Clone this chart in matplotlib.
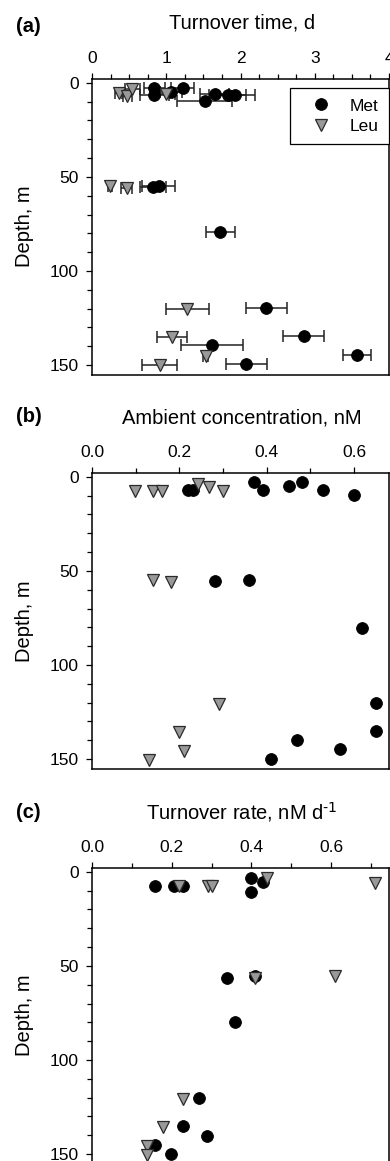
import matplotlib
matplotlib.use('Agg')
import matplotlib.pyplot as plt
from matplotlib.ticker import MultipleLocator, FormatStrFormatter

plt.rcParams['font.family'] = ['Liberation Sans', 'DejaVu Sans']
plt.rcParams['mathtext.default'] = 'regular'

# (a) turnover time, d
a_met_x = [0.84, 0.84, 1.06, 1.22, 1.52, 1.65, 1.83, 1.93, 0.82, 0.90, 1.73, 2.35, 2.85, 1.62, 3.57, 2.08]
a_met_d = [2.6, 6.4, 4.9, 2.6, 9.5, 6.2, 6.6, 6.6, 55.2, 54.8, 79.5, 119.5, 134.5, 139.5, 144.5, 149.5]
a_met_err = [0.14, 0.20, 0.15, 0.16, 0.37, 0.20, 0.25, 0.27, 0.18, 0.22, 0.19, 0.27, 0.28, 0.42, 0.19, 0.28]
a_leu_x = [0.36, 0.475, 0.54, 1.0, 0.24, 0.465, 1.28, 1.08, 1.53, 0.91]
a_leu_d = [5.3, 7.0, 3.5, 6.2, 55.0, 56.0, 120.0, 135.0, 145.0, 150.0]
a_leu_err = [0.05, 0.06, 0.10, 0.12, 0.03, 0.07, 0.29, 0.20, 0.03, 0.24]

# (b) ambient concentration, nM
b_met_x = [0.22, 0.232, 0.371, 0.391, 0.45, 0.48, 0.528, 0.60, 0.282, 0.36, 0.619, 0.65, 0.65, 0.47, 0.568, 0.41]
b_met_d = [6.9, 6.9, 3.0, 6.9, 4.9, 3.0, 6.9, 9.9, 55.5, 54.6, 80.2, 120.0, 135.0, 140.0, 144.9, 149.8]
b_leu_x = [0.0995, 0.139, 0.16, 0.242, 0.269, 0.30, 0.139, 0.18, 0.29, 0.20, 0.21, 0.13]
b_leu_d = [7.4, 7.4, 7.4, 3.7, 5.7, 7.4, 55.1, 56.0, 120.5, 135.5, 145.6, 150.5]

# (c) turnover rate, nM d-1
c_met_x = [0.159, 0.205, 0.229, 0.40, 0.40, 0.43, 0.338, 0.409, 0.358, 0.268, 0.228, 0.289, 0.159, 0.198]
c_met_d = [7.4, 7.4, 7.4, 3.4, 10.5, 5.3, 56.2, 55.3, 80.0, 120.3, 135.3, 140.3, 145.2, 150.2]
c_leu_x = [0.218, 0.29, 0.30, 0.44, 0.71, 0.409, 0.609, 0.229, 0.178, 0.138, 0.138]
c_leu_d = [7.8, 7.4, 7.4, 3.4, 6.2, 56.6, 55.6, 120.8, 135.8, 145.5, 150.5]

W, H = 390, 1161
fig = plt.figure(figsize=(W / 100, H / 100), dpi=100)

def frac_box(top_px, height_px=295.5, left_px=92, right_px=389):
    return [left_px / W, 1 - (top_px + height_px) / H, (right_px - left_px) / W, height_px / H]

met_kw = dict(ls='none', marker='o', ms=8.5, mfc='black', mec='black', mew=0.6, zorder=4)
leu_kw = dict(ls='none', marker='v', ms=8, mfc='#999999', mec='#2a2a2a', mew=0.9, zorder=5)
err_kw = dict(fmt='none', ecolor='#222222', elinewidth=1.1, capsize=4.3, capthick=1.1, zorder=3)

def style(ax, xmax, major, minor, fmt):
    ax.set_xlim(0, xmax)
    ax.set_ylim(155, -2)
    ax.xaxis.tick_top()
    ax.xaxis.set_major_locator(MultipleLocator(major))
    ax.xaxis.set_minor_locator(MultipleLocator(minor))
    ax.xaxis.set_major_formatter(FormatStrFormatter(fmt))
    ax.yaxis.set_major_locator(MultipleLocator(50))
    ax.yaxis.set_minor_locator(MultipleLocator(10))
    ax.tick_params(which='both', direction='out', width=0.9, labelsize=12.5, pad=5,
                   top=True, bottom=False, left=True, right=False)
    ax.tick_params(which='major', length=4.5)
    ax.tick_params(which='minor', length=3.8)
    for s in ax.spines.values():
        s.set_linewidth(1.1)

ax_a = fig.add_axes(frac_box(79))
ax_b = fig.add_axes(frac_box(473))
ax_c = fig.add_axes(frac_box(868))

ax_a.errorbar(a_met_x, a_met_d, xerr=a_met_err, **err_kw)
ax_a.errorbar(a_leu_x, a_leu_d, xerr=a_leu_err, **err_kw)
ax_a.plot(a_met_x, a_met_d, label='Met', **met_kw)
ax_a.plot(a_leu_x, a_leu_d, label='Leu', **leu_kw)
style(ax_a, 4.0, 1, 0.25, '%d')
leg = ax_a.legend(loc='upper right', bbox_to_anchor=(1.0, 1 - 9 / 295.5), borderaxespad=0,
                  fontsize=12.5, fancybox=False, framealpha=1, edgecolor='black',
                  borderpad=0.6, handlelength=2.4, handletextpad=0.45, labelspacing=0.3)
leg.get_frame().set_linewidth(0.9)

ax_b.plot(b_met_x, b_met_d, **met_kw)
ax_b.plot(b_leu_x, b_leu_d, **leu_kw)
style(ax_b, 0.68, 0.2, 0.1, '%.1f')

ax_c.plot(c_met_x, c_met_d, **met_kw)
ax_c.plot(c_leu_x, c_leu_d, **leu_kw)
style(ax_c, 0.745, 0.2, 0.1, '%.1f')

panels = [('(a)', 'Turnover time, d', 26, 23, 226.5),
          ('(b)', 'Ambient concentration, nM', 417, 418, 621),
          ('(c)', 'Turnover rate, nM d$^{\\text{-1}}$', 812, 812, 1015)]
for tag, title, ytag, ytitle, ylab in panels:
    fig.text(16 / W, 1 - ytag / H, tag, fontsize=14.5, fontweight='bold', ha='left', va='center')
    fig.text(242 / W, 1 - ytitle / H, title, fontsize=14.5, ha='center', va='center')
    fig.text(25 / W, 1 - ylab / H, 'Depth, m', fontsize=14.5, rotation=90, ha='center', va='center')

fig.savefig('out.png', dpi=100)
